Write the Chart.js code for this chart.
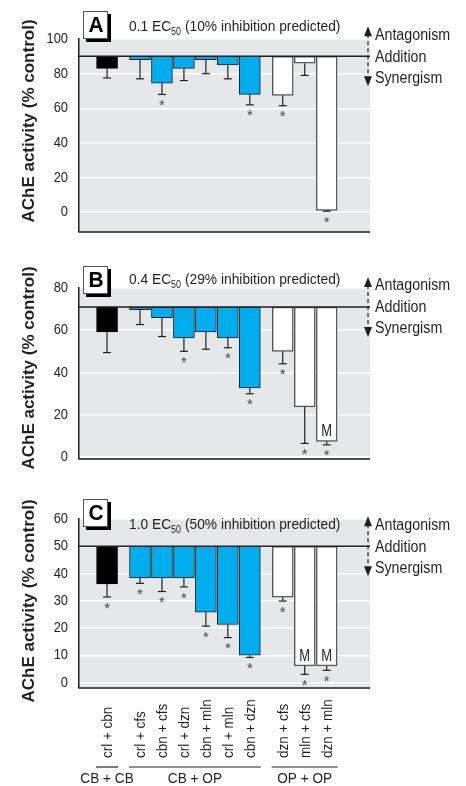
<!DOCTYPE html>
<html>
<head>
<meta charset="utf-8">
<script src="https://cdn.jsdelivr.net/npm/chart.js@4.4.1/dist/chart.umd.min.js"></script>
<style>
  body { margin: 0; background: #fff; width: 466px; height: 786px; overflow: hidden; position: relative; }
  canvas { position: absolute; left: 0; }
</style>
</head>
<body>
<canvas id="panelA" width="466" height="240" style="top:0"></canvas>
<canvas id="panelB" width="466" height="235" style="top:240px"></canvas>
<canvas id="panelC" width="466" height="311" style="top:475px"></canvas>
<script>
const categories = ["crl + cbn", "crl + cfs", "cbn + cfs", "crl + dzn", "cbn + mln",
  "crl + mln", "cbn + dzn", "dzn + cfs", "mln + cfs", "dzn + mln"];
const groups = ["CB + CB", "CB + OP", "CB + OP", "CB + OP", "CB + OP",
  "CB + OP", "CB + OP", "OP + OP", "OP + OP", "OP + OP"];

const doses = ["0.1", "0.4", "1.0"];
const inhibitionPredicted = [10, 29, 50];

// observed AChE activity (% control) and SE (drawn downward only)
const obsA = [83, 88, 74.5, 83, 88, 85, 68, 67.5, 86, 1];
const errA = [5.5, 11, 6.5, 7, 8, 8, 6, 6, 7, 0.4];
const obsB = [59.2, 69.7, 66, 56.4, 59.2, 56.4, 32.7, 50, 23.7, 7.3];
const errB = [9.8, 7, 9, 6.4, 8.2, 4.7, 2.8, 5.9, 17.3, 1.6];
const obsC = [36.2, 38.4, 38.4, 38.4, 25.8, 21.3, 10, 31.3, 6.1, 6.1];
const errC = [4.8, 2, 5, 3.3, 5.1, 4.8, 0.8, 1.4, 3.1, 1.6];

// significant (*) and "M" markers
const sigA = [0, 0, 1, 0, 0, 0, 1, 1, 0, 1];
const sigB = [0, 0, 0, 1, 0, 1, 1, 1, 1, 1];
const sigC = [1, 1, 1, 1, 1, 1, 1, 1, 1, 1];
const mixA = [0, 0, 0, 0, 0, 0, 0, 0, 0, 0];
const mixB = [0, 0, 0, 0, 0, 0, 0, 0, 0, 1];
const mixC = [0, 0, 0, 0, 0, 0, 0, 0, 1, 1];

const ticksA = [0, 20, 40, 60, 80, 100];
const ticksB = [0, 20, 40, 60, 80];
const ticksC = [0, 10, 20, 30, 40, 50, 60];

const FONT = "'Liberation Sans', Arial, sans-serif";
const INK = "#231f20";
const groupColors = { "CB + CB": "#000000", "CB + OP": "#00aeef", "OP + OP": "#ffffff" };
const groupBorders = { "CB + CB": "#000000", "CB + OP": "#231f20", "OP + OP": "#5a5a5a" };

// bar positions: one slot per bar, half a slot extra between groups
const groupOrder = [...new Set(groups)];
const xPos = groups.map((g, i) => i + 0.5 * groupOrder.indexOf(g));

function line(ctx, x1, y1, x2, y2) {
  ctx.beginPath(); ctx.moveTo(x1, y1); ctx.lineTo(x2, y2); ctx.stroke();
}

// condensed text: the figure uses a narrow face, so squeeze Liberation Sans
function txt(ctx, s, x, y, size, opt = {}) {
  const sx = opt.sx || 0.9;
  ctx.save();
  ctx.font = `${opt.bold ? "bold " : ""}${size}px ${FONT}`;
  ctx.textAlign = opt.align || "left";
  ctx.textBaseline = opt.base || "middle";
  ctx.translate(x, y);
  if (opt.rot) ctx.rotate(opt.rot);
  ctx.scale(sx, 1);
  ctx.fillText(s, 0, 0);
  const w = ctx.measureText(s).width * sx;
  ctx.restore();
  return w;
}

const decor = {
  id: "decor",
  beforeDraw(chart) {
    const { ctx, chartArea: a } = chart;
    ctx.save();
    ctx.fillStyle = "#e6e7e8";
    ctx.fillRect(a.left, a.top, a.right - a.left, a.bottom - a.top);
    ctx.restore();
  },
  afterDatasetsDraw(chart, args, o) {
    const { ctx, chartArea: a, scales: { x, y } } = chart;
    const yp = y.getPixelForValue(o.pred);
    ctx.save();
    ctx.strokeStyle = INK;
    ctx.fillStyle = INK;
    ctx.lineWidth = 1.5;
    line(ctx, a.left, yp, a.right, yp);
    line(ctx, a.left, a.bottom, a.right, a.bottom);

    // y tick labels
    o.ticks.forEach((t) => {
      txt(ctx, String(t), a.left - 11, y.getPixelForValue(t), 15, { align: "right", sx: 0.86 });
    });

    // error bars, stars, M
    o.obs.forEach((v, i) => {
      const cx = x.getPixelForValue(xPos[i]);
      const yb = y.getPixelForValue(v);
      const ye = y.getPixelForValue(v - o.err[i]);
      ctx.lineWidth = 1.2;
      ctx.strokeStyle = INK;
      line(ctx, cx, yb, cx, ye);
      line(ctx, cx - 4, ye, cx + 4, ye);
      if (o.sig[i]) {
        ctx.fillStyle = "#444";
        txt(ctx, "*", cx, ye + 4, 15, { align: "center", base: "top", sx: 1 });
      }
      if (o.mix[i]) {
        ctx.fillStyle = INK;
        txt(ctx, "M", cx, yb - 10, 17, { align: "center", sx: 0.76 });
      }
    });

    // panel letter box
    ctx.fillStyle = "#000";
    ctx.fillRect(86, o.boxTop + 3, 25, 28);
    ctx.fillStyle = "#fff";
    ctx.fillRect(83, o.boxTop, 25, 28);
    ctx.lineWidth = 1;
    ctx.strokeStyle = "#555";
    ctx.strokeRect(83.5, o.boxTop + 0.5, 24, 27);
    ctx.fillStyle = "#000";
    txt(ctx, o.letter, 96, o.boxTop + 15, 22, { bold: true, align: "center", sx: 0.95 });

    // dose title with subscript
    ctx.fillStyle = INK;
    let tx = 129;
    tx += txt(ctx, `${o.dose} EC`, tx, o.titleY, 14.5, { sx: 0.95 });
    tx += txt(ctx, "50", tx, o.titleY + 5, 10, { sx: 0.9 });
    txt(ctx, ` (${o.pct}% inhibition predicted)`, tx, o.titleY, 14.5, { sx: 0.95 });

    // antagonism / addition / synergism arrow
    const ax = 368;
    ctx.lineWidth = 1.2;
    ctx.strokeStyle = INK;
    ctx.setLineDash([4, 3]);
    line(ctx, ax, yp - 22, ax, yp + 22);
    ctx.setLineDash([]);
    ctx.beginPath();
    ctx.moveTo(ax, yp - 30); ctx.lineTo(ax - 4, yp - 20); ctx.lineTo(ax + 4, yp - 20);
    ctx.closePath(); ctx.fill();
    ctx.beginPath();
    ctx.moveTo(ax, yp + 30); ctx.lineTo(ax - 4, yp + 20); ctx.lineTo(ax + 4, yp + 20);
    ctx.closePath(); ctx.fill();
    txt(ctx, "Antagonism", 375, yp - 21, 16, { sx: 0.89 });
    txt(ctx, "Addition", 375, yp + 1, 16, { sx: 0.89 });
    txt(ctx, "Synergism", 375, yp + 22, 16, { sx: 0.89 });

    // y axis title
    ctx.fillStyle = INK;
    txt(ctx, "AChE activity (% control)", 29, o.yTitleY, 17,
      { bold: true, align: "center", sx: 1, rot: -Math.PI / 2 });

    // category labels and group brackets
    if (o.showCats) {
      categories.forEach((c, i) => {
        const cx = x.getPixelForValue(xPos[i]);
        txt(ctx, c, cx + 1, a.bottom + 70, 15.5, { rot: -Math.PI / 2, sx: 0.87 });
      });
      ctx.lineWidth = 1.2;
      ctx.strokeStyle = INK;
      groupOrder.forEach((g) => {
        const first = groups.indexOf(g);
        const last = groups.lastIndexOf(g);
        const x1 = x.getPixelForValue(xPos[first]) - 11;
        const x2 = x.getPixelForValue(xPos[last]) + 11;
        line(ctx, x1, a.bottom + 79, x2, a.bottom + 79);
        txt(ctx, g, Math.max((x1 + x2) / 2, 88), a.bottom + 91, 15.5, { align: "center", sx: 0.88 });
      });
    }
    ctx.restore();
  }
};

function buildPanel(id, k, obs, err, sig, mix, ticks, yMin, yMax, pad, extra) {
  const pred = 100 - inhibitionPredicted[k];
  const ctx = document.getElementById(id).getContext("2d");
  return new Chart(ctx, {
    type: "bar",
    data: {
      datasets: [{
        data: obs.map((v, i) => ({ x: xPos[i], y: [v, pred] })),
        backgroundColor: groups.map((g) => groupColors[g]),
        borderColor: groups.map((g) => groupBorders[g]),
        borderWidth: groups.map((g) => (g === "OP + OP" ? 1.5 : 1)),
        borderSkipped: false,
        barThickness: 21,
      }],
    },
    options: {
      responsive: false,
      animation: false,
      layout: { padding: { top: pad.top, bottom: pad.bottom, left: 0, right: 96 } },
      plugins: {
        legend: { display: false },
        tooltip: { enabled: false },
        decor: Object.assign({
          pred, obs, err, sig, mix, ticks,
          letter: "ABC"[k], dose: doses[k], pct: inhibitionPredicted[k],
        }, extra),
      },
      scales: {
        x: {
          type: "linear",
          display: false,
          min: -0.615,
          max: 11.31,
          afterBuildTicks: (axis) => { axis.ticks = xPos.map((v) => ({ value: v })); },
        },
        y: {
          min: yMin,
          max: yMax,
          afterBuildTicks: (axis) => { axis.ticks = ticks.map((v) => ({ value: v })); },
          afterFit: (axis) => { axis.width = 79; },
          grid: { color: "#ffffff", lineWidth: 1.5, drawTicks: false },
          border: { color: INK, width: 1.5 },
          ticks: { display: false },
        },
      },
    },
    plugins: [decor],
  });
}

buildPanel("panelA", 0, obsA, errA, sigA, mixA, ticksA, -11.4, 100,
  { top: 39, bottom: 8 }, { boxTop: 11, titleY: 27, yTitleY: 121 });
buildPanel("panelB", 1, obsB, errB, sigB, mixB, ticksB, -1, 80,
  { top: 48, bottom: 16 }, { boxTop: 26, titleY: 40, yTitleY: 128 });
buildPanel("panelC", 2, obsC, errC, sigC, mixC, ticksC, -2, 60,
  { top: 44, bottom: 98 }, { boxTop: 24, titleY: 50, yTitleY: 126, showCats: true });
</script>
</body>
</html>
